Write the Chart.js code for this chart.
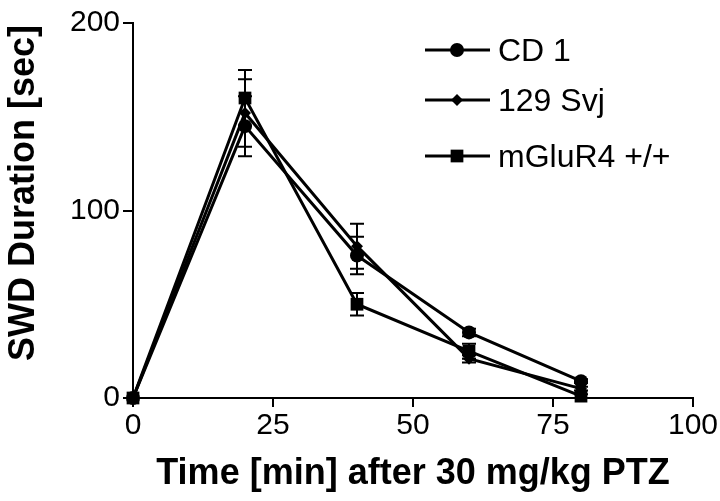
<!DOCTYPE html>
<html>
<head>
<meta charset="utf-8">
<script src="https://cdn.jsdelivr.net/npm/chart.js@4"></script>
<style>
  html, body { margin: 0; padding: 0; background: #fff; }
  #wrap { width: 720px; height: 501px; }
</style>
</head>
<body>
<div id="wrap"><canvas id="myChart" width="720" height="501"></canvas></div>
<script>
// time points (min after PTZ)
const times = [0, 20, 40, 60, 80];
const labels = ['CD 1', '129 Svj', 'mGluR4 +/+'];
const cd1 = [0, 145, 76, 35, 9];
const svj = [0, 152, 81, 21, 5];
const mglur4 = [0, 160, 50, 25, 1];
const cd1Err = [0, 16, 10, 2, 1];
const svjErr = [0, 18, 12, 2, 1];
const mglur4Err = [0, 15, 6, 4, 1];
const xTicks = [0, 25, 50, 75, 100];
const yTicks = [0, 100, 200];

const FONT = '"Liberation Sans", Arial, Helvetica, sans-serif';

function pts(vals) {
    return times.map((t, i) => ({x: t, y: vals[i]}));
}

const series = [
    {label: labels[0], data: pts(cd1), err: cd1Err, pointStyle: 'circle', pointRadius: 7},
    {label: labels[1], data: pts(svj), err: svjErr, pointStyle: 'rectRot', pointRadius: 6},
    {label: labels[2], data: pts(mglur4), err: mglur4Err, pointStyle: 'rect', pointRadius: 9}
];

// error bars + legend + axis titles
const extras = {
    id: 'extras',
    beforeDatasetsDraw(chart) {
        const ctx = chart.ctx;
        const xs = chart.scales.x, ys = chart.scales.y;
        ctx.save();
        ctx.strokeStyle = '#000';
        ctx.lineWidth = 2;
        series.forEach(s => {
            s.data.forEach((p, i) => {
                const e = s.err[i];
                if (!e) return;
                const px = xs.getPixelForValue(p.x);
                const top = ys.getPixelForValue(p.y + e);
                const bot = ys.getPixelForValue(p.y - e);
                ctx.beginPath();
                ctx.moveTo(px, top); ctx.lineTo(px, bot);
                ctx.moveTo(px - 7, top); ctx.lineTo(px + 7, top);
                ctx.moveTo(px - 7, bot); ctx.lineTo(px + 7, bot);
                ctx.stroke();
            });
        });
        ctx.restore();
    },
    afterDraw(chart) {
        const ctx = chart.ctx;
        ctx.save();
        ctx.fillStyle = '#000';
        ctx.strokeStyle = '#000';
        // legend
        const legY = [50, 100, 156];
        series.forEach((s, i) => {
            const y = legY[i];
            ctx.lineWidth = 3;
            ctx.beginPath();
            ctx.moveTo(425, y); ctx.lineTo(490, y);
            ctx.stroke();
            const x = 457, r = s.pointRadius;
            ctx.beginPath();
            if (s.pointStyle === 'circle') {
                ctx.arc(x, y, r, 0, Math.PI * 2);
            } else if (s.pointStyle === 'rectRot') {
                ctx.moveTo(x - r, y); ctx.lineTo(x, y - r);
                ctx.lineTo(x + r, y); ctx.lineTo(x, y + r);
                ctx.closePath();
            } else {
                const h = r * Math.SQRT1_2;
                ctx.rect(x - h, y - h, 2 * h, 2 * h);
            }
            ctx.fill();
            ctx.font = '32px ' + FONT;
            ctx.textAlign = 'left';
            ctx.textBaseline = 'middle';
            ctx.fillText(s.label, 498, y + 2);
        });
        // axis titles
        ctx.font = 'bold 36px ' + FONT;
        ctx.textAlign = 'center';
        ctx.textBaseline = 'middle';
        ctx.fillText('Time [min] after 30 mg/kg PTZ', 413, 474);
        ctx.translate(24, 193);
        ctx.rotate(-Math.PI / 2);
        ctx.fillText('SWD Duration [sec]', 0, 0);
        ctx.restore();
    }
};

const ctx = document.getElementById('myChart');

new Chart(ctx, {
    type: 'line',
    data: {
        datasets: series.map(s => ({
            label: s.label,
            data: s.data,
            borderColor: '#000',
            backgroundColor: '#000',
            borderWidth: 3,
            pointStyle: s.pointStyle,
            pointRadius: s.pointRadius,
            pointBorderWidth: 0,
            pointBackgroundColor: '#000',
            tension: 0,
            clip: false
        }))
    },
    options: {
        responsive: false,
        animation: false,
        events: [],
        layout: {padding: {left: 0, top: 23, right: 27, bottom: 0}},
        plugins: {legend: {display: false}, tooltip: {enabled: false}},
        scales: {
            x: {
                type: 'linear',
                min: 0, max: 100,
                afterBuildTicks: s => { s.ticks = xTicks.map(v => ({value: v})); },
                afterFit: s => { s.height = 501 - 398; },
                border: {color: '#000', width: 2},
                grid: {drawOnChartArea: false, color: '#000', lineWidth: 2, tickLength: 9},
                ticks: {color: '#000', font: {family: FONT, size: 30}, padding: 1, maxRotation: 0}
            },
            y: {
                min: 0, max: 200,
                afterBuildTicks: s => { s.ticks = yTicks.map(v => ({value: v})); },
                afterFit: s => { s.width = 133; },
                border: {color: '#000', width: 2},
                grid: {drawOnChartArea: false, color: '#000', lineWidth: 2, tickLength: 10},
                ticks: {color: '#000', font: {family: FONT, size: 30}, padding: 3}
            }
        }
    },
    plugins: [extras]
});
</script>
</body>
</html>
